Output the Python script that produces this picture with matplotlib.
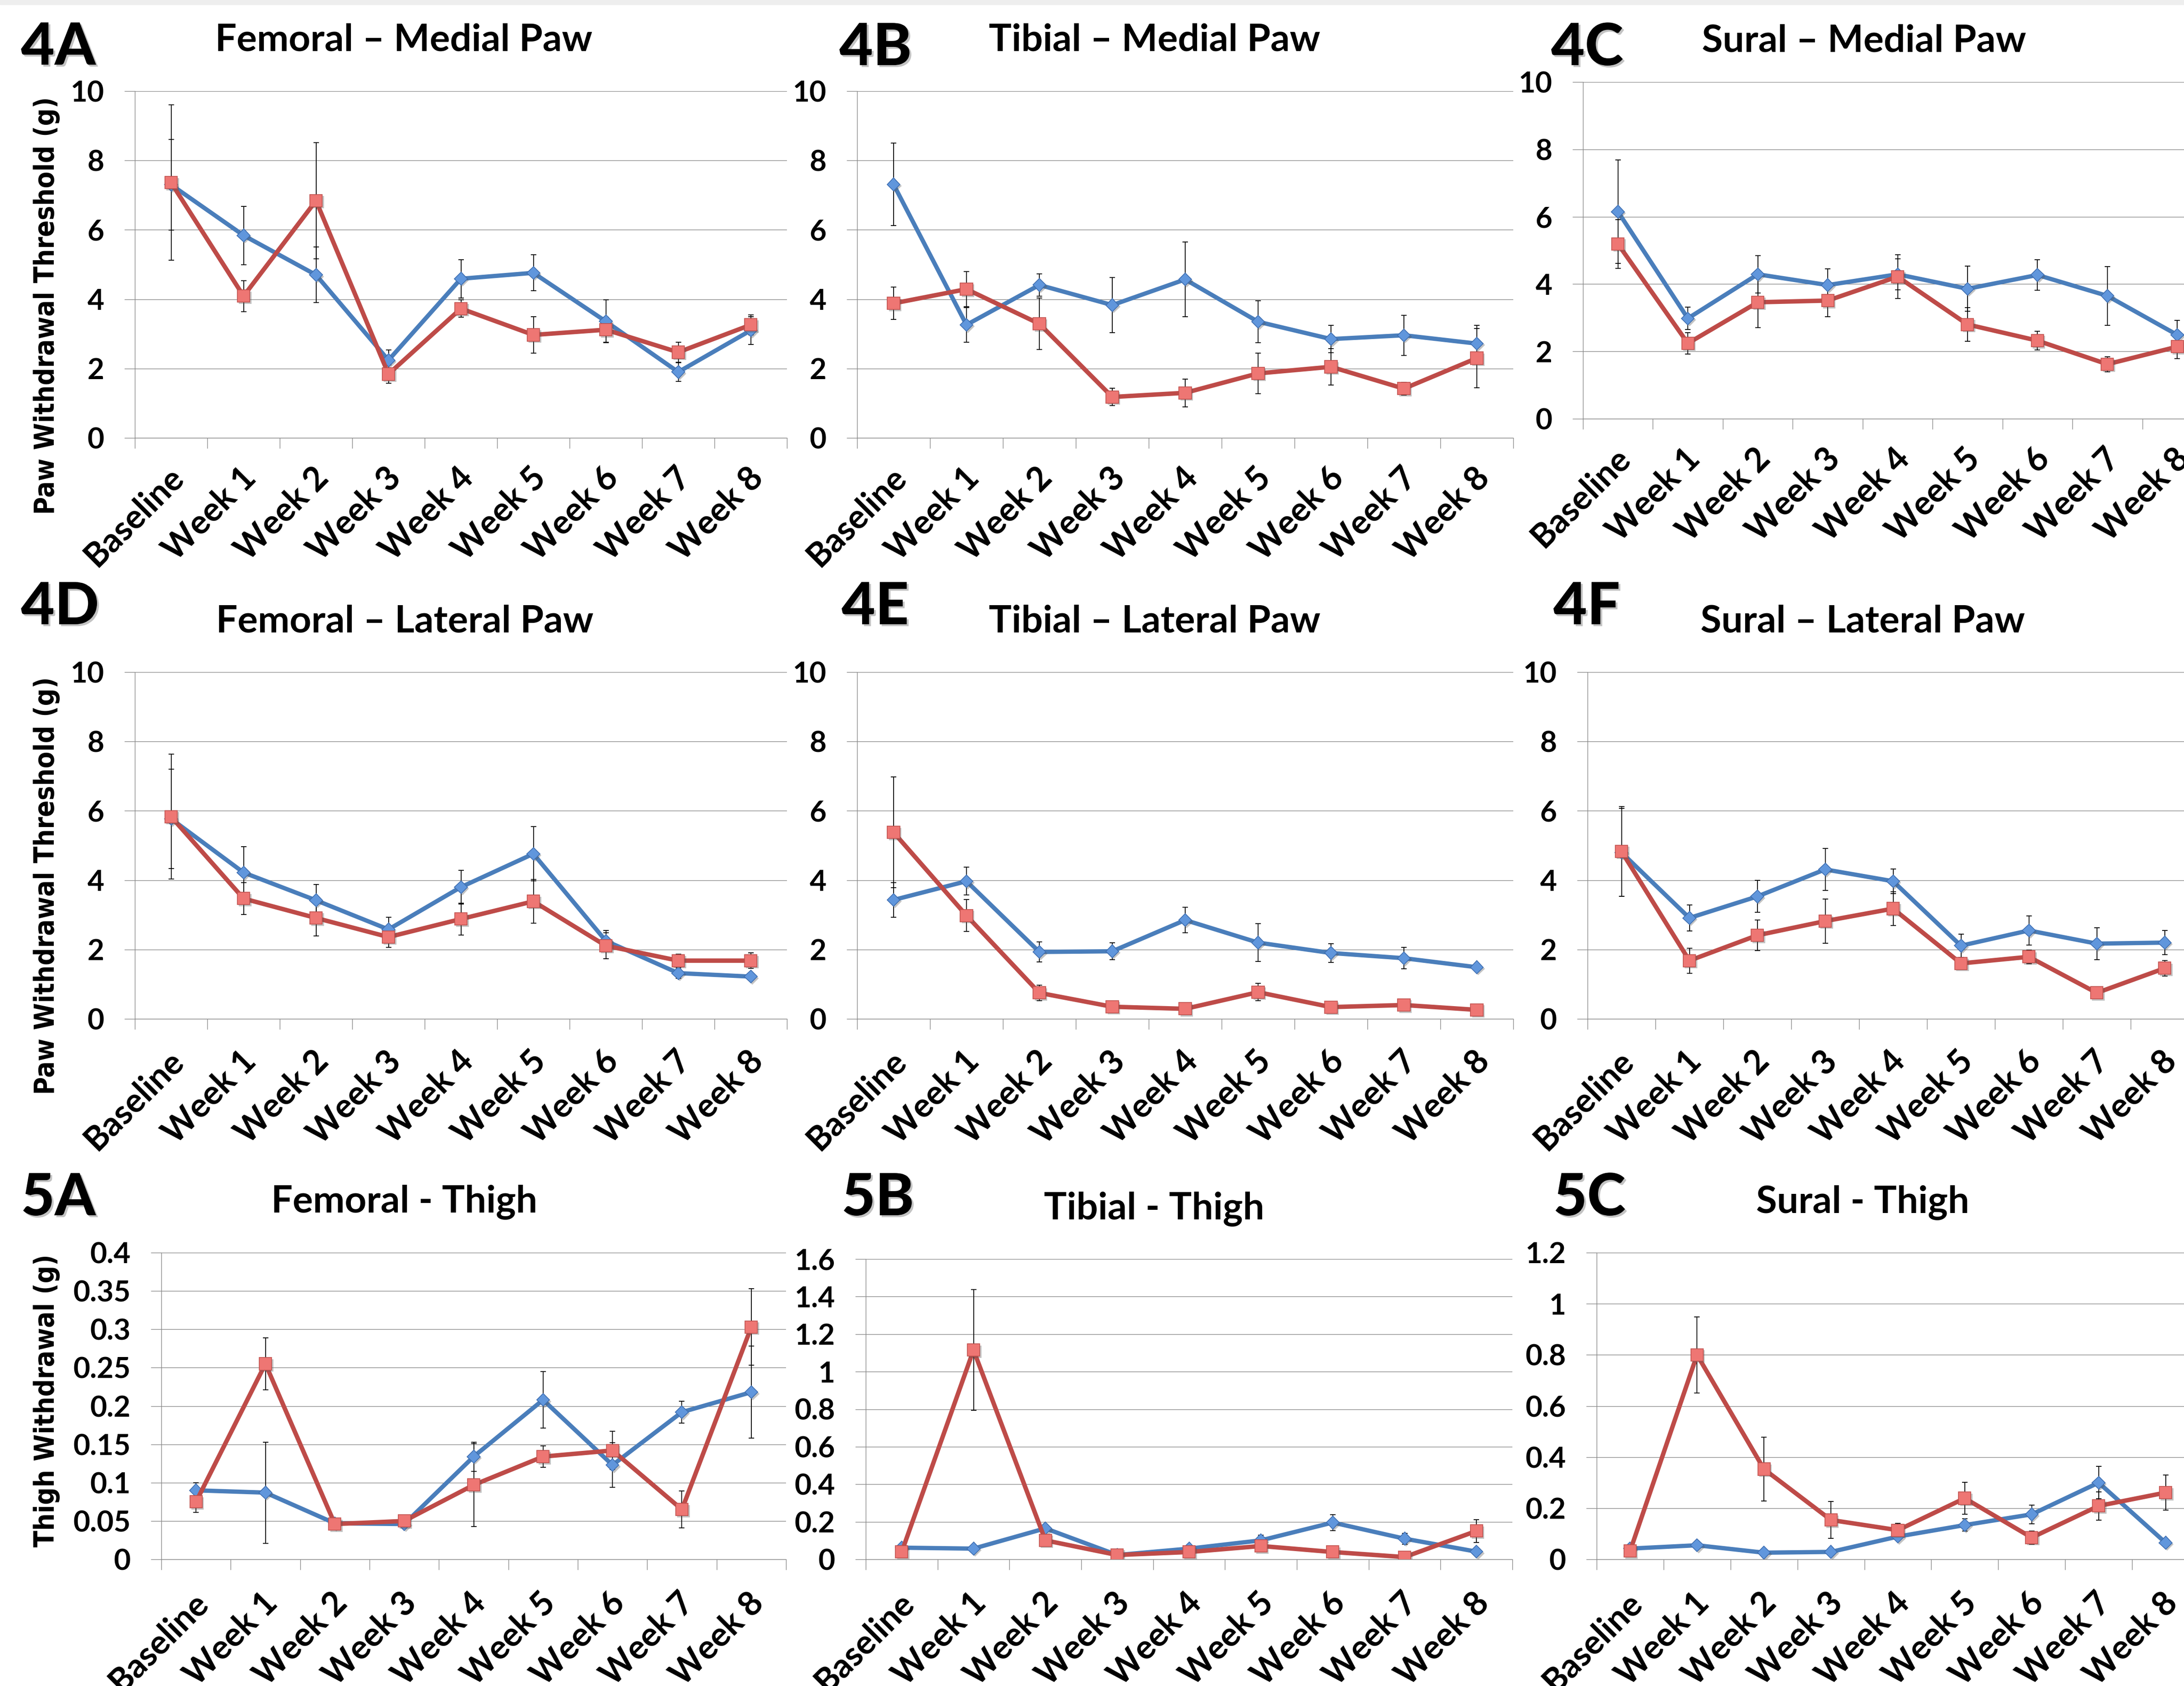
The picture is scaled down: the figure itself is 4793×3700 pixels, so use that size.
import numpy as np
import matplotlib
matplotlib.use('Agg')
import matplotlib.pyplot as plt
import matplotlib.patheffects as pe
from matplotlib import font_manager as fm

# ---------------- data ----------------
categories = ['Baseline', 'Week 1', 'Week 2', 'Week 3', 'Week 4',
              'Week 5', 'Week 6', 'Week 7', 'Week 8']

# 4A Femoral - Medial Paw
fem_med_blue = [7.30, 5.84, 4.70, 2.24, 4.59, 4.76, 3.36, 1.90, 3.10]
fem_med_blue_err = [1.31, 0.84, 0.80, 0.30, 0.55, 0.52, 0.62, 0.27, 0.40]
fem_med_red = [7.36, 4.09, 6.84, 1.84, 3.73, 2.97, 3.12, 2.47, 3.26]
fem_med_red_err = [2.24, 0.45, 1.68, 0.26, 0.25, 0.52, 0.36, 0.29, 0.29]

# 4B Tibial - Medial Paw
tib_med_blue = [7.31, 3.26, 4.41, 3.83, 4.57, 3.35, 2.85, 2.96, 2.72]
tib_med_blue_err = [1.19, 0.50, 0.32, 0.80, 1.08, 0.60, 0.39, 0.58, 0.52]
tib_med_red = [3.88, 4.29, 3.29, 1.18, 1.30, 1.86, 2.05, 1.42, 2.30]
tib_med_red_err = [0.47, 0.51, 0.74, 0.25, 0.40, 0.58, 0.52, 0.18, 0.85]

# 4C Sural - Medial Paw
sur_med_blue = [6.15, 2.98, 4.29, 3.97, 4.29, 3.86, 4.27, 3.65, 2.49]
sur_med_blue_err = [1.53, 0.33, 0.56, 0.48, 0.46, 0.67, 0.45, 0.87, 0.43]
sur_med_red = [5.19, 2.24, 3.46, 3.51, 4.22, 2.80, 2.32, 1.62, 2.14]
sur_med_red_err = [0.73, 0.32, 0.75, 0.48, 0.65, 0.50, 0.28, 0.22, 0.35]

# 4D Femoral - Lateral Paw
fem_lat_blue = [5.77, 4.22, 3.42, 2.58, 3.80, 4.76, 2.25, 1.32, 1.22]
fem_lat_blue_err = [1.43, 0.75, 0.46, 0.35, 0.49, 0.78, 0.30, 0.15, 0.05]
fem_lat_red = [5.83, 3.47, 2.91, 2.36, 2.88, 3.39, 2.11, 1.68, 1.68]
fem_lat_red_err = [1.80, 0.46, 0.52, 0.30, 0.46, 0.63, 0.38, 0.19, 0.22]

# 4E Tibial - Lateral Paw
tib_lat_blue = [3.43, 3.97, 1.93, 1.95, 2.85, 2.20, 1.90, 1.75, 1.49]
tib_lat_blue_err = [0.50, 0.40, 0.29, 0.24, 0.37, 0.55, 0.27, 0.31, 0.05]
tib_lat_red = [5.38, 2.98, 0.75, 0.35, 0.29, 0.77, 0.34, 0.40, 0.26]
tib_lat_red_err = [1.60, 0.46, 0.22, 0.05, 0.04, 0.25, 0.05, 0.05, 0.05]

# 4F Sural - Lateral Paw
sur_lat_blue = [4.80, 2.91, 3.53, 4.31, 3.97, 2.11, 2.55, 2.17, 2.20]
sur_lat_blue_err = [1.27, 0.37, 0.46, 0.61, 0.35, 0.33, 0.42, 0.46, 0.35]
sur_lat_red = [4.83, 1.68, 2.41, 2.82, 3.18, 1.60, 1.79, 0.75, 1.46]
sur_lat_red_err = [1.29, 0.36, 0.44, 0.64, 0.48, 0.15, 0.20, 0.05, 0.22]

# 5A Femoral - Thigh
fem_thigh_blue = [0.090, 0.087, 0.047, 0.046, 0.134, 0.208, 0.123, 0.192, 0.218]
fem_thigh_blue_err = [0.010, 0.066, 0.003, 0.003, 0.019, 0.037, 0.029, 0.014, 0.060]
fem_thigh_red = [0.075, 0.255, 0.046, 0.050, 0.097, 0.134, 0.142, 0.065, 0.303]
fem_thigh_red_err = [0.014, 0.034, 0.002, 0.002, 0.054, 0.014, 0.025, 0.024, 0.050]

# 5B Tibial - Thigh
tib_thigh_blue = [0.062, 0.057, 0.165, 0.023, 0.057, 0.101, 0.196, 0.110, 0.041]
tib_thigh_blue_err = [0.005, 0.005, 0.010, 0.005, 0.010, 0.027, 0.042, 0.029, 0.005]
tib_thigh_red = [0.039, 1.115, 0.101, 0.023, 0.039, 0.071, 0.039, 0.012, 0.151]
tib_thigh_red_err = [0.010, 0.322, 0.010, 0.005, 0.010, 0.010, 0.005, 0.005, 0.060]

# 5C Sural - Thigh
sur_thigh_blue = [0.042, 0.055, 0.026, 0.029, 0.089, 0.134, 0.176, 0.300, 0.065]
sur_thigh_blue_err = [0.005, 0.005, 0.003, 0.003, 0.005, 0.024, 0.037, 0.063, 0.005]
sur_thigh_red = [0.033, 0.800, 0.353, 0.154, 0.114, 0.239, 0.085, 0.209, 0.261]
sur_thigh_red_err = [0.005, 0.149, 0.125, 0.072, 0.027, 0.063, 0.026, 0.055, 0.068]

paw_ticks = [0, 2, 4, 6, 8, 10]
fem_thigh_ticks = [0, 0.05, 0.1, 0.15, 0.2, 0.25, 0.3, 0.35, 0.4]
tib_thigh_ticks = [0, 0.2, 0.4, 0.6, 0.8, 1.0, 1.2, 1.4, 1.6]
sur_thigh_ticks = [0, 0.2, 0.4, 0.6, 0.8, 1.0, 1.2]

titles = ['Femoral \u2013 Medial Paw', 'Tibial \u2013 Medial Paw', 'Sural \u2013 Medial Paw',
          'Femoral \u2013 Lateral Paw', 'Tibial \u2013 Lateral Paw', 'Sural \u2013 Lateral Paw',
          'Femoral - Thigh', 'Tibial - Thigh', 'Sural - Thigh']
tags = ['4A', '4B', '4C', '4D', '4E', '4F', '5A', '5B', '5C']
paw_ylabel = 'Paw Withdrawal Threshold (g)'
thigh_ylabel = 'Thigh Withdrawal (g)'

# ---------------- style ----------------
W, H = 4793, 3700
DPI = 100
fonts = fm.fontManager.ttflist
available = {f.name for f in fonts}
MAIN = 'Lato' if 'Lato' in available else 'DejaVu Sans'
has_condensed = any(f.name == 'DejaVu Sans' and f.stretch == 'condensed' for f in fonts)
if has_condensed:
    ylab_kw = dict(fontfamily='DejaVu Sans', fontstretch='condensed', fontsize=43)
else:
    ylab_kw = dict(fontfamily='DejaVu Sans', fontsize=40)

GRID = '#878787'
BLUE_LINE = '#4A7EBB'
RED_LINE = '#BE4B48'
BLUE_FACE = '#6096DC'
BLUE_EDGE = '#3D6DB0'
RED_FACE = '#EE7673'
RED_EDGE = '#C0504D'

fig = plt.figure(figsize=(W / DPI, H / DPI), dpi=DPI)
fig.patches.append(plt.Rectangle((0, 1 - 10 / H), 1, 10 / H, transform=fig.transFigure,
                                 color='#eeeeee', zorder=0))

# panel geometry in pixels: left, right, top(ymax), bottom(0)
boxes = [
    (296, 1727, 200, 961), (1881, 3321, 200, 961), (3474, 4855, 180, 919),
    (296, 1727, 1475, 2236), (1881, 3321, 1475, 2236), (3484, 4825, 1475, 2236),
    (354, 1725, 2749, 3422), (1900, 3319, 2763, 3422), (3504, 4826, 2749, 3422),
]
title_pos = [(886, 112), (2534, 112), (4091, 113),
             (888, 1387), (2534, 1387), (4088, 1387),
             (887, 2660), (2533, 2675), (4088, 2661)]
tag_pos = [(46, 142), (1842, 143), (3404, 143),
           (46, 1370), (1847, 1370), (3409, 1370),
           (46, 2667), (1847, 2667), (3409, 2667)]
xlab_pad = [55, 55, 55, 59, 59, 59, 61, 61, 61]

series = [
    (fem_med_blue, fem_med_blue_err, fem_med_red, fem_med_red_err, paw_ticks),
    (tib_med_blue, tib_med_blue_err, tib_med_red, tib_med_red_err, paw_ticks),
    (sur_med_blue, sur_med_blue_err, sur_med_red, sur_med_red_err, paw_ticks),
    (fem_lat_blue, fem_lat_blue_err, fem_lat_red, fem_lat_red_err, paw_ticks),
    (tib_lat_blue, tib_lat_blue_err, tib_lat_red, tib_lat_red_err, paw_ticks),
    (sur_lat_blue, sur_lat_blue_err, sur_lat_red, sur_lat_red_err, paw_ticks),
    (fem_thigh_blue, fem_thigh_blue_err, fem_thigh_red, fem_thigh_red_err, fem_thigh_ticks),
    (tib_thigh_blue, tib_thigh_blue_err, tib_thigh_red, tib_thigh_red_err, tib_thigh_ticks),
    (sur_thigh_blue, sur_thigh_blue_err, sur_thigh_red, sur_thigh_red_err, sur_thigh_ticks),
]

shadow = [pe.SimplePatchShadow(offset=(2.5, -2.5), shadow_rgbFace='#555555', alpha=0.35),
          pe.Normal()]

x = np.arange(len(categories)) + 0.5

for i, (blue, blue_err, red, red_err, yt) in enumerate(series):
    l, r, t, b = boxes[i]
    ax = fig.add_axes([l / W, 1 - b / H, (r - l) / W, (b - t) / H])
    ax.set_xlim(0, len(categories))
    ax.set_ylim(0, yt[-1])

    ax.errorbar(x, blue, yerr=blue_err, fmt='none', ecolor='black',
                elinewidth=1.3, capsize=4.5, capthick=1.3, zorder=2)
    ax.errorbar(x, red, yerr=red_err, fmt='none', ecolor='black',
                elinewidth=1.3, capsize=4.5, capthick=1.3, zorder=2)
    ax.plot(x, blue, color=BLUE_LINE, lw=6.8, solid_joinstyle='round', zorder=3)
    ax.plot(x, blue, ls='none', marker='D', ms=14.5, mfc=BLUE_FACE, mec=BLUE_EDGE,
            mew=1.2, zorder=3.5, path_effects=shadow)
    ax.plot(x, red, color=RED_LINE, lw=7, solid_joinstyle='round', zorder=4)
    ax.plot(x, red, ls='none', marker='s', ms=19.5, mfc=RED_FACE, mec=RED_EDGE,
            mew=1.2, zorder=4.5, path_effects=shadow)

    # y axis
    ax.set_yticks(yt)
    ax.set_yticklabels(['{:g}'.format(v) for v in yt], fontfamily=MAIN,
                       fontweight='bold', fontsize=46)
    ax.yaxis.grid(True, color=GRID, lw=1.0)
    ax.set_axisbelow(True)
    ax.tick_params(axis='y', which='major', direction='out', length=16.5,
                   width=1.0, color=GRID, pad=32)

    # category axis: ticks between categories, labels under categories
    ax.set_xticks(np.arange(len(categories) + 1))
    ax.set_xticklabels([])
    ax.tick_params(axis='x', which='major', direction='out', length=16.5,
                   width=1.0, color=GRID)
    ax.set_xticks(x + 0.1, categories, minor=True)
    ax.tick_params(axis='x', which='minor', length=0, pad=xlab_pad[i])
    for lab in ax.get_xticklabels(minor=True):
        lab.set_rotation(45)
        lab.set_ha('right')
        lab.set_va('center')
        lab.set_rotation_mode('anchor')
        lab.set_fontfamily(MAIN)
        lab.set_fontweight('bold')
        lab.set_fontsize(53)

    for s in ('top', 'right'):
        ax.spines[s].set_visible(False)
    for s in ('left', 'bottom'):
        ax.spines[s].set_color(GRID)
        ax.spines[s].set_linewidth(1.0)
    ax.patch.set_alpha(0)

    tx, ty = title_pos[i]
    fig.text(tx / W, 1 - ty / H, titles[i], ha='center', va='baseline',
             fontfamily=MAIN, fontweight='bold', fontsize=60)
    gx, gy = tag_pos[i]
    fig.text(gx / W, 1 - gy / H, tags[i], ha='left', va='baseline',
             fontfamily=MAIN, fontweight='black', fontsize=92,
             path_effects=[pe.withSimplePatchShadow(offset=(3, -3),
                                                    shadow_rgbFace='#888888', alpha=0.5)])

# y-axis titles
for label, yc in [(paw_ylabel, 671), (paw_ylabel, 1944), (thigh_ylabel, 3074)]:
    fig.text(103 / W, 1 - yc / H, label, rotation=90, ha='center', va='center',
             fontweight='bold', **ylab_kw)

fig.savefig('out.png', dpi=DPI)
